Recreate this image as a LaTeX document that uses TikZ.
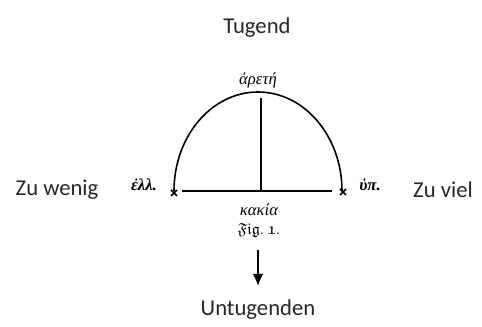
\documentclass[tikz,border=0pt]{standalone}
\usepackage{amssymb}
\usepackage{fontspec}
\setmainfont{Carlito}
\newfontfamily\greekfont{Liberation Serif}
\usepackage{tikz}
\usetikzlibrary{arrows.meta}

\begin{document}
\begin{tikzpicture}[x=0.75pt, y=0.75pt,
    german/.style={font=\fontsize{17}{20}\selectfont, text=black!85},
    greek/.style={font=\greekfont\itshape\fontsize{12.5}{15}\selectfont},
    smallgreek/.style={font=\greekfont\bfseries\itshape\fontsize{12.5}{15}\selectfont},
    stroke/.style={line width=1.2pt}]
    \useasboundingbox (0, 0) rectangle (482, 327);

    % German labels
    \node[german] (tugend) at (257, 299) {Tugend};
    \node[german] (wenig) at (57, 137) {Zu wenig};
    \node[german] (viel) at (443, 137) {Zu viel};
    \node[german] (untugenden) at (258, 17) {Untugenden};

    % Figure: arc over the base line
    \coordinate (left) at (174, 136);
    \coordinate (top) at (261, 229);
    \coordinate (base) at (261, 136);
    \coordinate (baseleft) at (182, 136);
    \coordinate (baseright) at (332, 136);
    \draw[stroke] (left) arc[start angle=180, end angle=0, x radius=84, y radius=99];
    \draw[stroke] (top) -- (base);
    \draw[stroke] (baseleft) -- (baseright);

    % end marks
    \draw[stroke] (171, 131) -- (177, 137) (171, 137) -- (177, 131);
    \draw[stroke] (340, 132) -- (346, 138) (340, 138) -- (346, 132);

    % Greek labels
    \node[greek] (arete) at (258, 247) {ἀρετή};
    \node[smallgreek] (ell) at (144, 142) {ἐλλ.};
    \node[smallgreek] (hyp) at (370, 142) {ὑπ.};
    \node[greek] (kakia) at (259, 117) {κακία};
    \node (fig) at (259, 97) {\fontsize{12}{14}\selectfont$\mathfrak{Fig.}\ \mathfrak{1.}$};

    % arrow down
    \coordinate (arrowstart) at (258, 77);
    \coordinate (arrowend) at (258, 41);
    \draw[stroke, -{Latex[length=9pt, width=8pt]}] (arrowstart) -- (arrowend);
\end{tikzpicture}
\end{document}
